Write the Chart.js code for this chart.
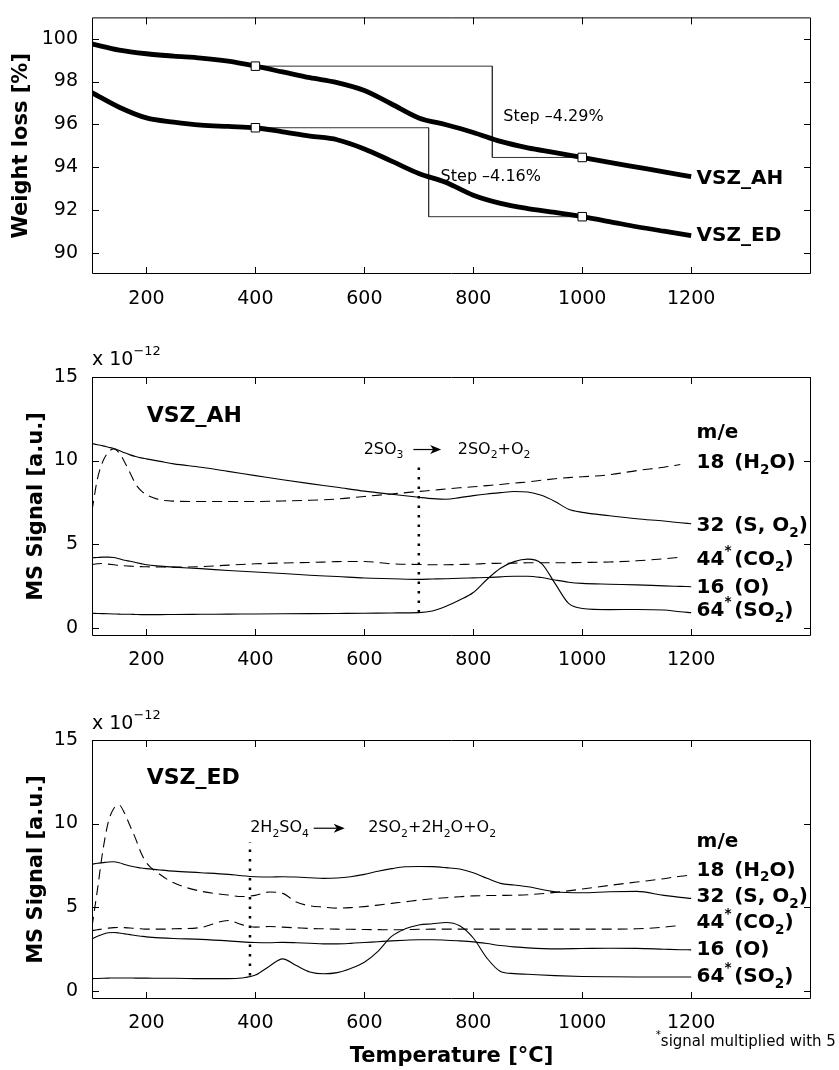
<!DOCTYPE html>
<html>
<head>
<meta charset="utf-8">
<script src="https://cdn.jsdelivr.net/npm/chart.js@4.4.1/dist/chart.umd.min.js"></script>
<style>
  html, body { margin: 0; padding: 0; background: #fff; }
  #wrap { position: relative; width: 839px; height: 1070px; }
  .panel { position: absolute; left: 0; width: 839px; }
</style>
</head>
<body>
<div id="wrap">
  <div class="panel" style="top:0;height:320px"><canvas id="tg"></canvas></div>
  <div class="panel" style="top:320px;height:360px"><canvas id="msAH"></canvas></div>
  <div class="panel" style="top:680px;height:390px"><canvas id="msED"></canvas></div>
</div>
<script>
// ---- data ----
const xTicks = [200, 400, 600, 800, 1000, 1200]
const tgTicks = [90, 92, 94, 96, 98, 100]
const msTicks = [0, 5, 10, 15]

// weight loss (TG)
const tempTG = [100, 150, 200, 250, 300, 350, 400, 450, 500, 550, 600, 650, 700, 750, 800, 850, 900, 950, 1000, 1050, 1100, 1150, 1200]
const tgAH = [99.76, 99.47, 99.3, 99.19, 99.1, 98.95, 98.72, 98.45, 98.18, 97.95, 97.58, 96.95, 96.3, 95.98, 95.62, 95.2, 94.9, 94.68, 94.45, 94.22, 94.0, 93.78, 93.55]
const tgED = [97.48, 96.8, 96.3, 96.1, 95.96, 95.9, 95.84, 95.65, 95.45, 95.28, 94.85, 94.28, 93.7, 93.28, 92.68, 92.3, 92.06, 91.88, 91.68, 91.45, 91.21, 91.0, 90.8]
const markT = [400, 1000]
const markAH = [98.72, 94.45]
const markED = [95.84, 91.68]
const stepAHT = [400, 835, 835, 1000]
const stepAHV = [98.72, 98.72, 94.45, 94.45]
const stepEDT = [400, 718, 718, 1000]
const stepEDV = [95.84, 95.84, 91.68, 91.68]

// MS signal, VSZ_AH (x 1e-12)
const tempAH = [100, 110, 120, 130, 140, 150, 160, 170, 180, 190, 200, 225, 250, 300, 350, 400, 450, 500, 550, 600, 650, 700, 725, 750, 775, 800, 825, 850, 875, 900, 925, 950, 975, 1000, 1050, 1100, 1150, 1180, 1200]
const ah18 = [7.0, 8.9, 9.95, 10.5, 10.7, 10.45, 9.9, 9.25, 8.6, 8.2, 7.95, 7.65, 7.57, 7.55, 7.55, 7.55, 7.58, 7.62, 7.7, 7.85, 8.0, 8.15, 8.22, 8.3, 8.37, 8.43, 8.5, 8.57, 8.65, 8.72, 8.82, 8.91, 8.98, 9.03, 9.15, 9.4, 9.6, 9.76, null]
const ah32 = [11.02, 10.95, 10.88, 10.8, 10.72, 10.6, 10.46, 10.34, 10.24, 10.16, 10.1, 9.95, 9.8, 9.6, 9.35, 9.1, 8.85, 8.62, 8.4, 8.17, 7.98, 7.8, 7.72, 7.68, 7.78, 7.9, 8.0, 8.08, 8.15, 8.12, 7.92, 7.55, 7.08, 6.9, 6.7, 6.52, 6.38, 6.28, 6.22]
const ah44 = [3.78, 3.82, 3.84, 3.8, 3.76, 3.72, 3.7, 3.68, 3.66, 3.65, 3.64, 3.63, 3.62, 3.65, 3.74, 3.82, 3.87, 3.9, 3.95, 3.96, 3.82, 3.78, 3.76, 3.76, 3.78, 3.8, 3.84, 3.85, 3.86, 3.88, 3.88, 3.88, 3.89, 3.9, 3.93, 4.0, 4.12, 4.22, null]
const ah16 = [4.18, 4.2, 4.22, 4.22, 4.2, 4.12, 4.03, 3.97, 3.9, 3.83, 3.76, 3.68, 3.62, 3.53, 3.42, 3.33, 3.24, 3.14, 3.06, 2.97, 2.93, 2.89, 2.91, 2.93, 2.96, 2.98, 3.0, 3.04, 3.08, 3.08, 3.0, 2.85, 2.72, 2.65, 2.6, 2.56, 2.5, 2.47, 2.45]
const ah64 = [0.86, 0.85, 0.84, 0.83, 0.82, 0.81, 0.8, 0.8, 0.79, 0.78, 0.78, 0.78, 0.79, 0.8, 0.81, 0.82, 0.83, 0.84, 0.85, 0.86, 0.88, 0.9, 1.0, 1.28, 1.65, 2.1, 2.88, 3.55, 3.95, 4.1, 3.85, 2.65, 1.45, 1.15, 1.08, 1.09, 1.06, 0.95, 0.9]
const ahMarkT = [700, 700]
const ahMarkV = [0.9, 9.6]

// MS signal, VSZ_ED (x 1e-12)
const tempED = [100, 110, 120, 130, 140, 150, 160, 170, 180, 190, 200, 225, 250, 300, 350, 375, 400, 425, 450, 475, 500, 525, 550, 575, 600, 625, 650, 675, 700, 725, 750, 775, 800, 825, 850, 875, 900, 950, 1000, 1050, 1100, 1150, 1180, 1200]
const ed18 = [3.83, 6.05, 8.4, 10.1, 10.9, 11.1, 10.6, 9.85, 9.1, 8.25, 7.65, 6.95, 6.45, 5.95, 5.72, 5.63, 5.7, 5.9, 5.82, 5.3, 5.08, 5.0, 4.94, 4.97, 5.03, 5.12, 5.22, 5.32, 5.42, 5.5, 5.56, 5.62, 5.67, 5.69, 5.7, 5.71, 5.74, 5.88, 6.08, 6.3, 6.5, 6.7, 6.85, 6.92]
const ed32 = [7.57, 7.62, 7.66, 7.7, 7.71, 7.65, 7.55, 7.46, 7.4, 7.34, 7.3, 7.22, 7.15, 7.06, 6.96, 6.88, 6.82, 6.8, 6.82, 6.8, 6.76, 6.72, 6.74, 6.82, 6.96, 7.15, 7.3, 7.41, 7.43, 7.42, 7.36, 7.28, 7.05, 6.72, 6.42, 6.32, 6.22, 5.92, 5.86, 5.92, 5.94, 5.7, 5.58, 5.52]
const ed44 = [3.59, 3.64, 3.7, 3.74, 3.77, 3.78, 3.77, 3.75, 3.72, 3.7, 3.68, 3.68, 3.7, 3.78, 4.2, 3.95, 3.8, 3.84, 3.8, 3.76, 3.72, 3.7, 3.68, 3.67, 3.66, 3.65, 3.64, 3.65, 3.67, 3.68, 3.68, 3.68, 3.68, 3.68, 3.68, 3.68, 3.68, 3.68, 3.68, 3.68, 3.7, 3.8, 3.9, null]
const ed16 = [3.1, 3.25, 3.38, 3.46, 3.48, 3.45, 3.4, 3.35, 3.3, 3.26, 3.22, 3.16, 3.12, 3.07, 2.98, 2.92, 2.88, 2.87, 2.89, 2.87, 2.84, 2.8, 2.8, 2.83, 2.88, 2.93, 2.98, 3.02, 3.05, 3.05, 3.02, 2.98, 2.92, 2.82, 2.7, 2.62, 2.56, 2.5, 2.52, 2.54, 2.53, 2.48, 2.45, 2.44]
const ed64 = [0.72, 0.73, 0.74, 0.75, 0.76, 0.76, 0.76, 0.76, 0.75, 0.75, 0.75, 0.74, 0.74, 0.72, 0.72, 0.76, 0.93, 1.45, 1.9, 1.5, 1.12, 1.01, 1.08, 1.33, 1.7, 2.35, 3.25, 3.7, 3.93, 4.0, 4.08, 3.88, 3.15, 1.95, 1.15, 1.02, 0.98, 0.9, 0.85, 0.83, 0.82, 0.82, 0.82, 0.82]
const edMarkT = [390, 390]
const edMarkV = [0.9, 8.9]

const FONT = '"DejaVu Sans", sans-serif'

function pts(ts, vs) {
  return ts.map((t, i) => ({ x: t, y: vs[i] })).filter(p => p.y != null)
}

// frame round the plot + inward ticks on all four sides
const frame = {
  id: "frame",
  afterDatasetsDraw(chart) {
    const { ctx, chartArea: a, scales: { x, y } } = chart
    ctx.save()
    ctx.strokeStyle = "#000"
    ctx.lineWidth = 1
    ctx.beginPath()
    ctx.rect(a.left + 0.5, a.top + 0.5, a.right - a.left - 1, a.bottom - a.top - 1)
    x.ticks.forEach(t => {
      const px = Math.round(x.getPixelForValue(t.value)) + 0.5
      ctx.moveTo(px, a.bottom); ctx.lineTo(px, a.bottom - 7)
      ctx.moveTo(px, a.top); ctx.lineTo(px, a.top + 7)
    })
    y.ticks.forEach(t => {
      const py = Math.round(y.getPixelForValue(t.value)) + 0.5
      ctx.moveTo(a.left, py); ctx.lineTo(a.left + 7, py)
      ctx.moveTo(a.right, py); ctx.lineTo(a.right - 7, py)
    })
    ctx.stroke()
    ctx.restore()
  }
}

// text with sub/superscripts, placed in data coordinates
function notes(items) {
  return {
    id: "notes",
    afterDraw(chart) {
      const { ctx, scales: { x, y } } = chart
      ctx.save()
      ctx.fillStyle = "#000"
      ctx.strokeStyle = "#000"
      ctx.textBaseline = "middle"
      ctx.textAlign = "left"
      items.forEach(it => {
        const py = y.getPixelForValue(it.v)
        if (it.arrow) {
          const x1 = x.getPixelForValue(it.arrow[0]), x2 = x.getPixelForValue(it.arrow[1])
          ctx.lineWidth = 1.2
          ctx.beginPath(); ctx.moveTo(x1, py); ctx.lineTo(x2 - 8, py); ctx.stroke()
          ctx.beginPath(); ctx.moveTo(x2, py); ctx.lineTo(x2 - 11, py - 4.5); ctx.lineTo(x2 - 8, py); ctx.lineTo(x2 - 11, py + 4.5); ctx.closePath(); ctx.fill()
          return
        }
        let cx = x.getPixelForValue(it.t)
        const size = it.size || 16
        const weight = it.bold ? "bold" : "normal"
        it.parts.forEach(([s, k]) => {
          const sz = k ? size * 0.68 : size
          ctx.font = `${weight} ${sz}px ${FONT}`
          const dy = k === "sub" ? size * 0.38 : k === "sup" ? -size * 0.42 : 0
          ctx.fillText(s, cx, py + dy)
          cx += ctx.measureText(s).width
        })
      })
      ctx.restore()
    }
  }
}

function scalesFor(o) {
  return {
    x: {
      type: "linear", min: 100, max: 1420,
      afterBuildTicks: s => { s.ticks = xTicks.map(v => ({ value: v })) },
      afterFit: s => { s.height = o.xHeight },
      grid: { display: false }, border: { display: false },
      ticks: { font: { family: FONT, size: 19 }, color: "#000", padding: o.xPad, maxRotation: 0, autoSkip: false, callback: v => String(v) },
      title: o.xTitle ? { display: true, text: o.xTitle, color: "#000", font: { family: FONT, size: 21, weight: "bold" }, padding: { top: 0, bottom: 1 } } : { display: false }
    },
    y: {
      type: "linear", min: o.yMin, max: o.yMax,
      afterBuildTicks: s => { s.ticks = o.yTicks.map(v => ({ value: v })) },
      afterFit: s => { s.width = 92 },
      grid: { display: false }, border: { display: false },
      ticks: { font: { family: FONT, size: 19 }, color: "#000", padding: 6, callback: v => String(v) },
      title: { display: true, text: o.yTitle, color: "#000", font: { family: FONT, size: 21, weight: "bold" }, padding: { top: o.yTitlePad, bottom: 0 } }
    }
  }
}

function makeChart(id, datasets, o, items) {
  new Chart(document.getElementById(id), {
    type: "line",
    data: { datasets },
    options: {
      responsive: true,
      maintainAspectRatio: false,
      animation: false,
      layout: { padding: { top: o.top, right: 28, left: 0, bottom: 0 } },
      plugins: { legend: { display: false }, tooltip: { enabled: false } },
      elements: { point: { radius: 0 } },
      scales: scalesFor(o)
    },
    plugins: [frame, notes(items)]
  })
}

const solid = (data, w) => ({ data, borderColor: "#000", borderWidth: w || 1.1, cubicInterpolationMode: "monotone", fill: false })
const dashed = data => ({ data, borderColor: "#000", borderWidth: 1.1, borderDash: [10, 6], cubicInterpolationMode: "monotone", fill: false })
const thin = data => ({ data, borderColor: "#333", borderWidth: 1, tension: 0, fill: false })
const dots = data => ({ data, borderColor: "#000", borderWidth: 2.5, borderDash: [2.5, 7], tension: 0, fill: false })

// ---- panel 1: weight loss ----
makeChart("tg", [
  { data: pts(markT, markAH).concat(pts(markT, markED)), showLine: false, pointStyle: "rect", pointRadius: 6, pointBackgroundColor: "#fff", pointBorderColor: "#000", pointBorderWidth: 1 },
  solid(pts(tempTG, tgAH), 4.8),
  solid(pts(tempTG, tgED), 4.8),
  thin(pts(stepAHT, stepAHV)),
  thin(pts(stepEDT, stepEDV))
], { top: 13, xHeight: 46, xPad: 6, yMin: 89, yMax: 101, yTicks: tgTicks, yTitle: "Weight loss [%]", yTitlePad: 9 }, [
  { t: 1210, v: 93.47, size: 20, bold: true, parts: [["VSZ_AH"]] },
  { t: 1210, v: 90.79, size: 20, bold: true, parts: [["VSZ_ED"]] },
  { t: 855, v: 96.33, parts: [["Step –4.29%"]] },
  { t: 740, v: 93.55, parts: [["Step –4.16%"]] }
])

// ---- panel 2: MS signal VSZ_AH ----
makeChart("msAH", [
  dashed(pts(tempAH, ah18)),
  solid(pts(tempAH, ah32)),
  dashed(pts(tempAH, ah44)),
  solid(pts(tempAH, ah16)),
  solid(pts(tempAH, ah64)),
  dots(pts(ahMarkT, ahMarkV))
], { top: 57, xHeight: 44, xPad: 5, yMin: -0.5, yMax: 15, yTicks: msTicks, yTitle: "MS Signal [a.u.]", yTitlePad: 24 }, [
  { t: 100, v: 16.04, size: 19, parts: [["x 10"], ["−12", "sup"]] },
  { t: 200.5, v: 12.63, size: 22, bold: true, parts: [["VSZ_AH"]] },
  { t: 598.7, v: 10.66, parts: [["2SO"], ["3", "sub"]] },
  { arrow: [690, 741], v: 10.66 },
  { t: 771.5, v: 10.66, parts: [["2SO"], ["2", "sub"], ["+O"], ["2", "sub"]] },
  { t: 1210, v: 11.66, size: 20, bold: true, parts: [["m/e"]] },
  { t: 1210, v: 9.86, size: 20, bold: true, parts: [["18"]] },
  { t: 1279, v: 9.86, size: 20, bold: true, parts: [["(H"], ["2", "sub"], ["O)"]] },
  { t: 1210, v: 6.07, size: 20, bold: true, parts: [["32"]] },
  { t: 1279, v: 6.07, size: 20, bold: true, parts: [["(S, O"], ["2", "sub"], [")"]] },
  { t: 1210, v: 4.08, size: 20, bold: true, parts: [["44"], ["*", "sup"]] },
  { t: 1279, v: 4.08, size: 20, bold: true, parts: [["(CO"], ["2", "sub"], [")"]] },
  { t: 1210, v: 2.39, size: 20, bold: true, parts: [["16"]] },
  { t: 1279, v: 2.39, size: 20, bold: true, parts: [["(O)"]] },
  { t: 1210, v: 0.99, size: 20, bold: true, parts: [["64"], ["*", "sup"]] },
  { t: 1279, v: 0.99, size: 20, bold: true, parts: [["(SO"], ["2", "sub"], [")"]] }
])

// ---- panel 3: MS signal VSZ_ED ----
makeChart("msED", [
  dashed(pts(tempED, ed18)),
  solid(pts(tempED, ed32)),
  dashed(pts(tempED, ed44)),
  solid(pts(tempED, ed16)),
  solid(pts(tempED, ed64)),
  dots(pts(edMarkT, edMarkV))
], { top: 60, xHeight: 71, xPad: 5, yMin: -0.5, yMax: 15, yTicks: msTicks, yTitle: "MS Signal [a.u.]", yTitlePad: 24, xTitle: "Temperature [°C]" }, [
  { t: 100, v: 15.98, size: 19, parts: [["x 10"], ["−12", "sup"]] },
  { t: 200.5, v: 12.68, size: 22, bold: true, parts: [["VSZ_ED"]] },
  { t: 390.4, v: 9.72, parts: [["2H"], ["2", "sub"], ["SO"], ["4", "sub"]] },
  { arrow: [507, 564], v: 9.72 },
  { t: 607, v: 9.72, parts: [["2SO"], ["2", "sub"], ["+2H"], ["2", "sub"], ["O+O"], ["2", "sub"]] },
  { t: 1210, v: 8.9, size: 20, bold: true, parts: [["m/e"]] },
  { t: 1210, v: 7.2, size: 20, bold: true, parts: [["18"]] },
  { t: 1279, v: 7.2, size: 20, bold: true, parts: [["(H"], ["2", "sub"], ["O)"]] },
  { t: 1210, v: 5.62, size: 20, bold: true, parts: [["32"]] },
  { t: 1279, v: 5.62, size: 20, bold: true, parts: [["(S, O"], ["2", "sub"], [")"]] },
  { t: 1210, v: 4.04, size: 20, bold: true, parts: [["44"], ["*", "sup"]] },
  { t: 1279, v: 4.04, size: 20, bold: true, parts: [["(CO"], ["2", "sub"], [")"]] },
  { t: 1210, v: 2.44, size: 20, bold: true, parts: [["16"]] },
  { t: 1279, v: 2.44, size: 20, bold: true, parts: [["(O)"]] },
  { t: 1210, v: 0.85, size: 20, bold: true, parts: [["64"], ["*", "sup"]] },
  { t: 1279, v: 0.85, size: 20, bold: true, parts: [["(SO"], ["2", "sub"], [")"]] },
  { t: 1135, v: -3.05, size: 15, parts: [["*", "sup"], ["signal multiplied with 5"]] }
])
</script>
</body>
</html>
